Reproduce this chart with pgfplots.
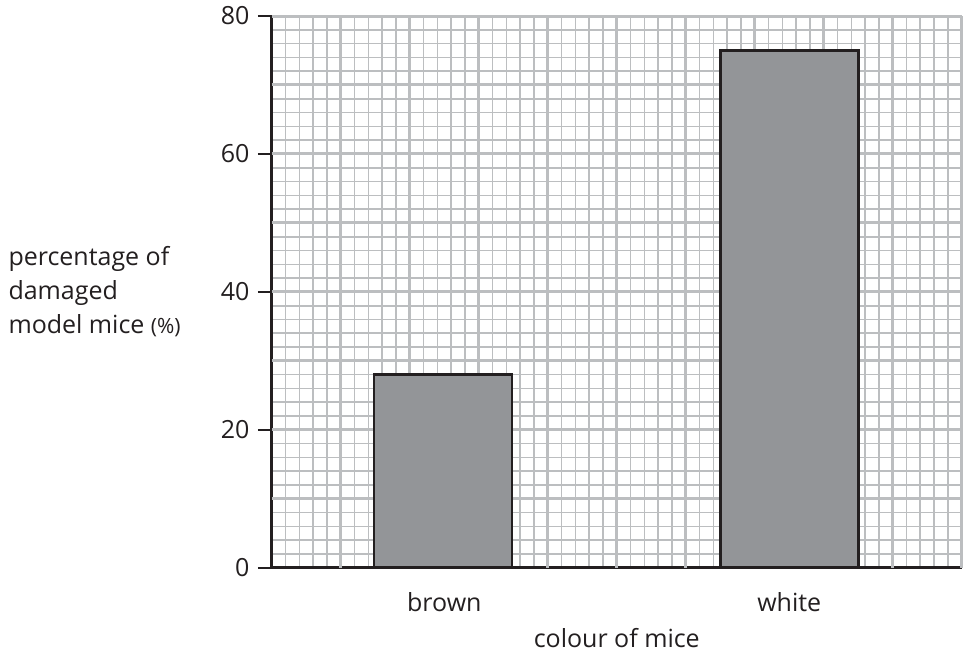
\documentclass[border=0pt]{standalone}
\usepackage{pgfplots}
\pgfplotsset{compat=1.18}
\usepackage{fontspec}
\setmainfont{Open Sans}
\definecolor{gridgray}{HTML}{BCBEC0}
\definecolor{bargray}{HTML}{939598}
\definecolor{ink}{HTML}{231F20}

\begin{document}
\begin{tikzpicture}
\path (-272pt,-89pt) rectangle (693pt,568pt);
\begin{axis}[
    at={(0pt,0pt)}, anchor=origin,
    scale only axis,
    width=690pt, height=552pt,
    xmin=0, xmax=100, ymin=0, ymax=80,
    axis lines*=left,
    axis line style={-, line width=3pt, draw=ink},
    tick align=outside,
    font=\fontsize{25}{34}\selectfont,
    /pgf/number format/assume math mode=true,
    xtick={25,75},
    xticklabels={brown,white},
    xtick style={draw=none},
    ytick={0,20,...,80},
    ytick style={draw=ink, line width=2pt},
    major tick length=14pt,
    minor tick length=0pt,
    minor xtick={2,4,...,100},
    minor ytick={2,4,...,80},
    xminorgrids, yminorgrids,
    minor grid style={draw=gridgray, line width=1.6pt},
    extra x ticks={10,20,...,100},
    extra x tick labels={},
    extra x tick style={xmajorgrids=true, major grid style={draw=gridgray, line width=3pt}},
    extra y ticks={10,20,...,80},
    extra y tick labels={},
    extra y tick style={ymajorgrids=true, major tick length=0pt, major grid style={draw=gridgray, line width=3pt}},
    xticklabel style={yshift=-7pt, text=ink},
    yticklabel style={text=ink, xshift=-5pt},
    xlabel={colour of mice},
    xlabel style={text=ink, inner sep=1pt, yshift=16pt},
    ylabel={percentage of\\damaged\\model mice {\fontsize{21}{34}\selectfont(\%)}},
    ylabel style={rotate=-90, align=left, anchor=west, text=ink,
        at={(axis description cs:0,0.5)}, xshift=-267pt},
]
\addplot[ybar, bar width=138pt, bar shift=0pt, fill=bargray, draw=ink, line width=2.8pt]
    coordinates {(24.8,28) (75,75)};
\end{axis}
\end{tikzpicture}
\end{document}
